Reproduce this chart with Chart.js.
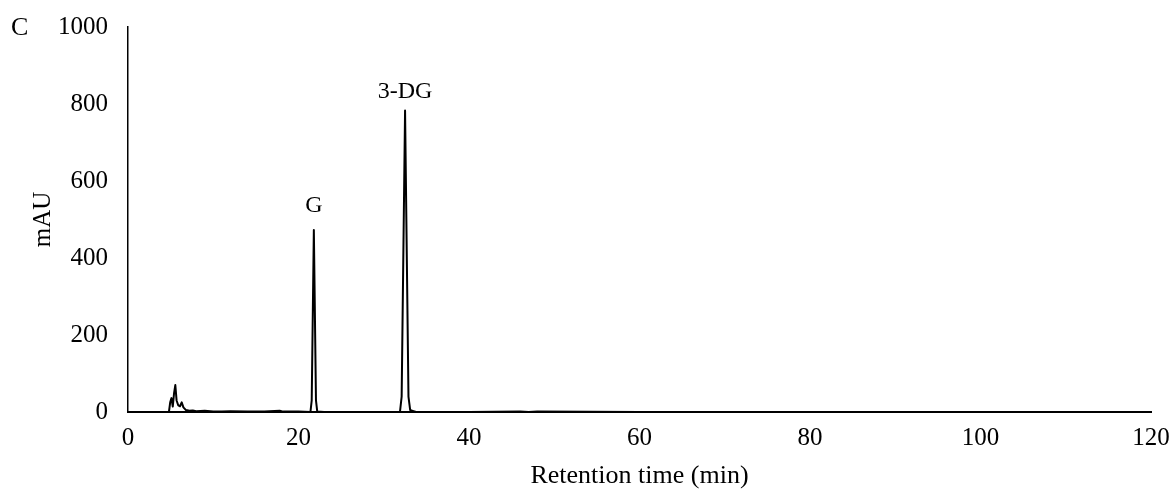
<!DOCTYPE html>
<html>
<head>
<meta charset="utf-8">
<script src="https://cdn.jsdelivr.net/npm/chart.js@4.4.1/dist/chart.umd.min.js"></script>
<style>
html,body{margin:0;padding:0;background:#fff;}
#wrap{position:relative;width:1172px;height:492px;}
</style>
</head>
<body>
<div id="wrap"><canvas id="c" width="1172" height="492"></canvas></div>
<script>
// Retention time (min) and absorbance (mAU)
const times = [0, 4.8, 4.95, 5.1, 5.25, 5.4, 5.55, 5.7, 5.9, 6.1, 6.3, 6.5, 6.8, 7.2, 7.6, 8.0, 9.0, 10.0, 11.0, 12.0, 14.0, 16.0, 17.8, 18.2, 20.0, 21.4, 21.55, 21.8, 22.05, 22.2, 23.0, 30.0, 31.9, 32.1, 32.5, 32.9, 33.1, 33.4, 33.8, 40.0, 46.0, 47.0, 48.0, 60.0, 120.0];
const mAU   = [0, 0, 25, 36, 14, 48, 70, 30, 17, 15, 25, 12, 5, 3, 4, 2, 3, 1, 1, 2, 1, 1, 3, 1, 1, 0, 30, 473, 30, 1, 0, 0, 0, 40, 783, 40, 5, 3, 0, 0, 1, 0, 1, 0, 0];
const xTicks = [0, 20, 40, 60, 80, 100, 120];
const yTicks = [0, 200, 400, 600, 800, 1000];
const peakLabels = ["G", "3-DG"];
const peakLabelX = [21.8, 32.5];
const peakLabelY = [519, 815];

const points = times.map((t, i) => ({x: t, y: mAU[i]}));
const FONT = "'Liberation Serif', 'Times New Roman', serif";

const labelPlugin = {
  id: 'peakLabels',
  afterDatasetsDraw(chart) {
    const {ctx, scales} = chart;
    ctx.save();
    ctx.fillStyle = '#000';
    ctx.font = "24px " + FONT;
    ctx.textAlign = 'center';
    ctx.textBaseline = 'alphabetic';
    peakLabels.forEach((lab, i) => {
      const px = scales.x.getPixelForValue(peakLabelX[i]);
      const py = scales.y.getPixelForValue(peakLabelY[i]);
      ctx.fillText(lab, px, py);
    });
    ctx.font = "26px " + FONT;
    ctx.textAlign = 'left';
    ctx.textBaseline = 'alphabetic';
    ctx.fillText("C", 11, 35);
    ctx.restore();
  }
};

new Chart(document.getElementById('c'), {
  type: 'scatter',
  data: {
    datasets: [{
      data: points,
      showLine: true,
      borderColor: '#000',
      borderWidth: 2,
      borderJoinStyle: 'round',
      borderCapStyle: 'round',
      pointRadius: 0,
      tension: 0,
      fill: false
    }]
  },
  options: {
    responsive: false,
    animation: false,
    layout: {padding: {left: 0, right: 21, top: 27, bottom: 0}},
    plugins: {legend: {display: false}, tooltip: {enabled: false}},
    scales: {
      x: {
        type: 'linear', min: 0, max: 120,
        afterBuildTicks(ax) { ax.ticks = xTicks.map(v => ({value: v})); },
        afterFit(ax) { ax.height = 80; ax.paddingLeft = 0; ax.paddingRight = 0; },
        grid: {display: false, drawTicks: false},
        border: {display: true, color: '#000', width: 2},
        ticks: {color: '#000', font: {family: FONT, size: 25}, padding: 11, maxRotation: 0, callback: v => String(v)},
        title: {display: true, text: 'Retention time (min)', color: '#000', font: {family: FONT, size: 26}, padding: {top: 0, bottom: 0}}
      },
      y: {
        type: 'linear', min: 0, max: 1000,
        afterBuildTicks(ax) { ax.ticks = yTicks.map(v => ({value: v})); },
        afterFit(ax) { ax.width = 128; ax.paddingTop = 0; ax.paddingBottom = 0; },
        grid: {display: false, drawTicks: false},
        border: {display: true, color: '#000', width: 1.5},
        ticks: {color: '#000', font: {family: FONT, size: 25}, padding: 20, callback: v => String(v)},
        title: {display: true, text: 'mAU', color: '#000', font: {family: FONT, size: 25}, padding: {top: 28, bottom: 0}}
      }
    }
  },
  plugins: [labelPlugin]
});
</script>
</body>
</html>
